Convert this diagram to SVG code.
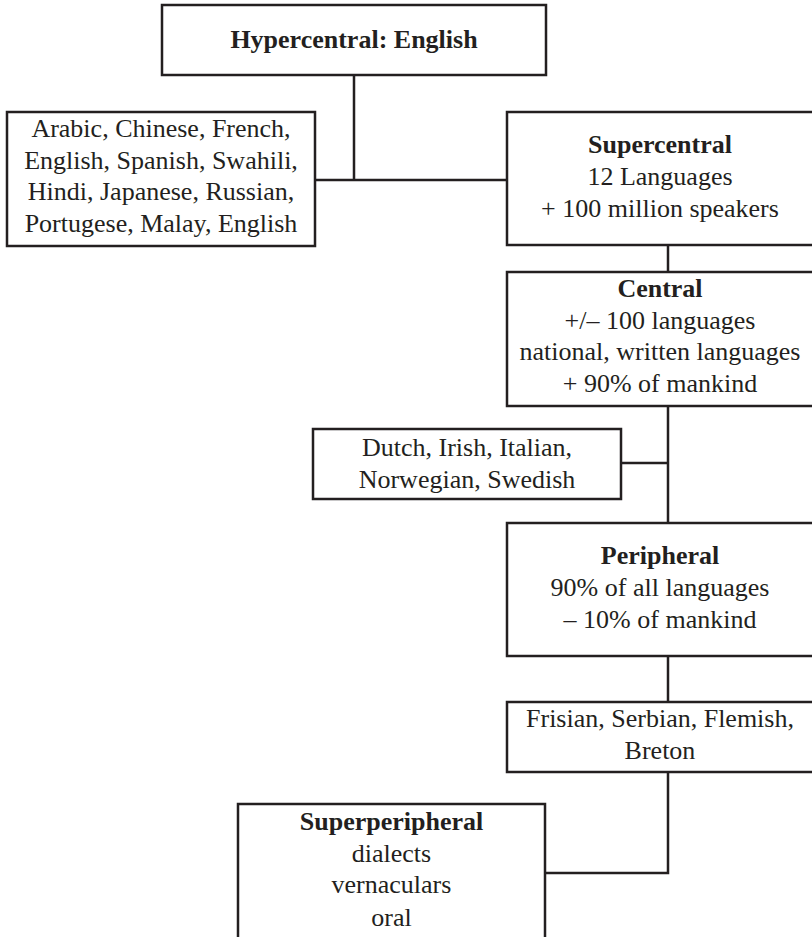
<svg xmlns="http://www.w3.org/2000/svg" width="812" height="937" viewBox="0 0 812 937">
<style>
.box{fill:#ffffff;stroke:#231f20;stroke-width:2.5}
.ln{fill:none;stroke:#231f20;stroke-width:2.5}
text{font-family:"Liberation Serif","Times New Roman",serif;font-size:26px;fill:#231f20;text-anchor:middle}
.b{font-weight:bold}
</style>
<rect width="812" height="937" fill="#ffffff"/>
<g id="connectors">
<path class="ln" d="M354 75 V180 M315 180 H507"/>
<path class="ln" d="M668 245 V272"/>
<path class="ln" d="M668 406 V523 M621 463 H668"/>
<path class="ln" d="M668 656 V702"/>
<path class="ln" d="M668 772 V873 H545"/>
</g>
<g id="hypercentral">
<rect class="box" x="162" y="5" width="384" height="70"/>
<text class="b" x="354" y="48">Hypercentral: English</text>
</g>
<g id="supercentral-list">
<rect class="box" x="7" y="112" width="308" height="134"/>
<text x="161" y="137">Arabic, Chinese, French,</text>
<text x="161" y="168.5">English, Spanish, Swahili,</text>
<text x="161" y="200">Hindi, Japanese, Russian,</text>
<text x="161" y="231.5">Portugese, Malay, English</text>
</g>
<g id="supercentral">
<rect class="box" x="507" y="112" width="308" height="133"/>
<text class="b" x="660" y="153">Supercentral</text>
<text x="660" y="185">12 Languages</text>
<text x="660" y="217">+ 100 million speakers</text>
</g>
<g id="central">
<rect class="box" x="507" y="272" width="308" height="134"/>
<text class="b" x="660" y="297">Central</text>
<text x="660" y="329">+/– 100 languages</text>
<text x="660" y="360">national, written languages</text>
<text x="660" y="392">+ 90% of mankind</text>
</g>
<g id="central-list">
<rect class="box" x="313" y="429" width="308" height="70"/>
<text x="467" y="456">Dutch, Irish, Italian,</text>
<text x="467" y="488">Norwegian, Swedish</text>
</g>
<g id="peripheral">
<rect class="box" x="507" y="523" width="308" height="133"/>
<text class="b" x="660" y="564">Peripheral</text>
<text x="660" y="596">90% of all languages</text>
<text x="660" y="628">– 10% of mankind</text>
</g>
<g id="peripheral-list">
<rect class="box" x="507" y="702" width="308" height="70"/>
<text x="660" y="727">Frisian, Serbian, Flemish,</text>
<text x="660" y="759">Breton</text>
</g>
<g id="superperipheral">
<rect class="box" x="238" y="804" width="307" height="145"/>
<text class="b" x="391.5" y="830">Superperipheral</text>
<text x="391.5" y="862">dialects</text>
<text x="391.5" y="893">vernaculars</text>
<text x="391.5" y="926">oral</text>
</g>
</svg>
